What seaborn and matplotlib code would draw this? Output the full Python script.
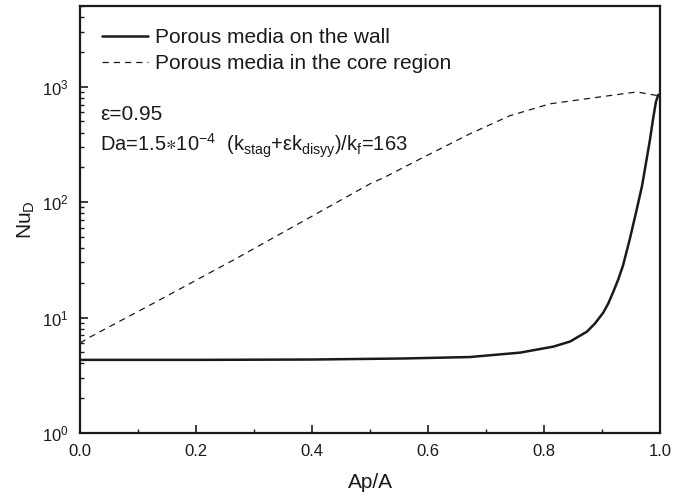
import numpy as np
import pandas as pd
import seaborn as sns
import matplotlib
matplotlib.use("Agg")
import matplotlib.pyplot as plt
from matplotlib.ticker import LogLocator, MultipleLocator, FormatStrFormatter, NullFormatter

sns.set_style("ticks")
plt.rcParams["font.family"] = ["Liberation Sans", "DejaVu Sans"]
plt.rcParams["mathtext.fontset"] = "custom"
plt.rcParams["mathtext.rm"] = "Liberation Sans"
plt.rcParams["mathtext.it"] = "Liberation Sans:italic"
plt.rcParams["mathtext.default"] = "regular"

# porous media on the wall (solid)
wall_x = [0.0, 0.2, 0.4, 0.557, 0.672, 0.759, 0.816, 0.845, 0.874, 0.888,
          0.902, 0.911, 0.919, 0.928, 0.936, 0.948, 0.96, 0.969, 0.977,
          0.983, 0.988, 0.993, 0.997, 1.0]
wall_nu = [4.3, 4.3, 4.33, 4.42, 4.55, 4.97, 5.6, 6.2, 7.55, 8.9,
           11.0, 13.3, 16.5, 21.4, 28.0, 48.0, 87.0, 138.0, 236.0,
           355.0, 525.0, 740.0, 850.0, 840.0]

# porous media in the core region (dashed)
core_x = [0.0, 0.013, 0.129, 0.267, 0.5, 0.526, 0.586, 0.672, 0.741, 0.81,
          0.9, 0.96, 1.0]
core_nu = [6.0, 6.6, 13.5, 32.0, 144.0, 165.0, 236.0, 390.0, 560.0, 710.0,
           820.0, 900.0, 830.0]

wall = pd.DataFrame({"x": wall_x, "nu": wall_nu})
core = pd.DataFrame({"x": core_x, "nu": core_nu})

ink = "#1a1a1a"
fig = plt.figure(figsize=(6.86, 4.98), dpi=100)
ax = fig.add_axes([80 / 686, 1 - 433 / 498, 580 / 686, 427 / 498])

sns.lineplot(data=wall, x="x", y="nu", ax=ax, color=ink, linewidth=1.8,
             label="Porous media on the wall")
sns.lineplot(data=core, x="x", y="nu", ax=ax, color=ink, linewidth=0.9,
             linestyle=(0, (5, 4)), label="Porous media in the core region")

ax.set_yscale("log")
ax.set_xlim(0, 1.0)
ax.set_ylim(1, 5000)
ax.xaxis.set_major_locator(MultipleLocator(0.2))
ax.xaxis.set_minor_locator(MultipleLocator(0.1))
ax.xaxis.set_major_formatter(FormatStrFormatter("%.1f"))
ax.yaxis.set_major_locator(LogLocator(base=10, numticks=10))
ax.yaxis.set_minor_locator(LogLocator(base=10, subs=np.arange(2, 10), numticks=20))
ax.yaxis.set_minor_formatter(NullFormatter())

ax.tick_params(which="major", direction="in", length=6, width=1.2,
               labelsize=12, colors=ink, pad=8)
ax.tick_params(which="minor", direction="in", length=3, width=1.0, colors=ink)
ax.tick_params(top=False, right=False, which="both")
for s in ax.spines.values():
    s.set_linewidth(1.6)
    s.set_color(ink)

ax.set_xlabel("Ap/A", fontsize=15, color=ink, labelpad=10)
ax.set_ylabel("Nu$_{D}$", fontsize=15, color=ink, labelpad=4)

leg = ax.legend(loc="upper left", frameon=False, fontsize=15,
                handlelength=2.2, handletextpad=0.35, labelspacing=0.35,
                borderaxespad=0, borderpad=0, bbox_to_anchor=(0.038, 0.948))
for t in leg.get_texts():
    t.set_color(ink)

ax.text(0.0345, 0.733, "\u03b5=0.95", transform=ax.transAxes, fontsize=15,
        color=ink, va="baseline")
ax.text(0.0345, 0.660,
        "Da=1.5$\\ast$10$^{-4}$  (k$_{stag}$+\u03b5k$_{disyy}$)/k$_{f}$=163",
        transform=ax.transAxes, fontsize=14.5, color=ink, va="baseline")

fig.savefig("out.png", dpi=100)
